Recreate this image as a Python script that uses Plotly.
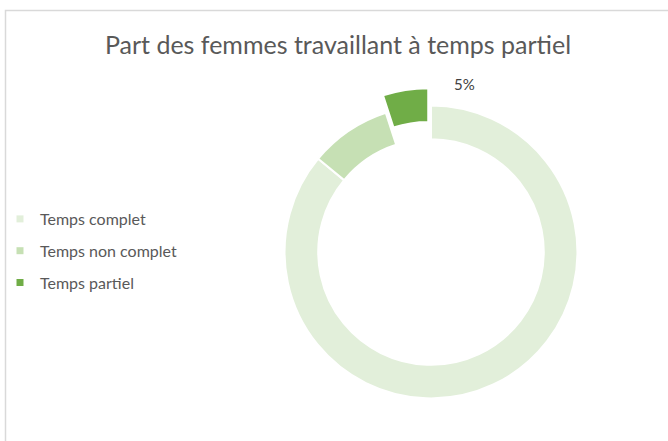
import plotly.graph_objects as go

categories = ["Temps complet", "Temps non complet", "Temps partiel"]
values = [86, 9, 5]
colors = ["#E2EFDA", "#C6E0B4", "#70AD47"]
pulls = [0, 0, 0.12]

W, H = 668, 441
FONT = "Lato, Calibri, sans-serif"

fig = go.Figure()

fig.add_trace(go.Pie(
    labels=categories,
    values=values,
    sort=False,
    direction="clockwise",
    rotation=0,
    hole=0.77,
    pull=pulls,
    marker=dict(colors=colors, line=dict(color="white", width=2)),
    textinfo="none",
    showlegend=False,
    domain=dict(x=[267 / W, 595 / W], y=[1 - 416 / H, 1 - 88 / H]),
    hoverinfo="label+percent",
))

# legend entries
for cat, col in zip(categories, colors):
    fig.add_trace(go.Scatter(
        x=[None], y=[None], mode="markers", name=cat, legendgroup=cat,
        marker=dict(symbol="square", size=7, color=col),
        showlegend=True,
    ))

pct = values[2] / sum(values) * 100
fig.add_annotation(
    x=464 / W, y=1 - 84 / H, xref="paper", yref="paper",
    xanchor="center", yanchor="middle",
    text=f"{pct:.0f}%", showarrow=False,
    font=dict(family=FONT, size=15, color="#404040"),
)

fig.update_layout(
    width=W, height=H,
    margin=dict(l=0, r=0, t=0, b=0),
    paper_bgcolor="white", plot_bgcolor="white",
    title=dict(
        text="Part des femmes travaillant à temps partiel",
        x=338 / W, xanchor="center", y=1 - 45 / H, yanchor="middle",
        font=dict(family=FONT, size=25, color="#595959"),
    ),
    xaxis=dict(visible=False), yaxis=dict(visible=False),
    legend=dict(
        x=0, xanchor="left", y=1 - 251 / H, yanchor="middle",
        font=dict(family=FONT, size=16, color="#595959"),
        tracegroupgap=8, itemwidth=30,
        bgcolor="rgba(0,0,0,0)",
    ),
    shapes=[dict(
        type="rect", xref="paper", yref="paper",
        x0=5.5 / W, x1=1.02, y0=-0.02, y1=1 - 10.5 / H,
        line=dict(color="#D9D9D9", width=1.5), fillcolor="rgba(0,0,0,0)",
        layer="below",
    )],
)

fig.write_html("out.html", config={"displayModeBar": False},
               post_script="document.body.style.margin='0';")
